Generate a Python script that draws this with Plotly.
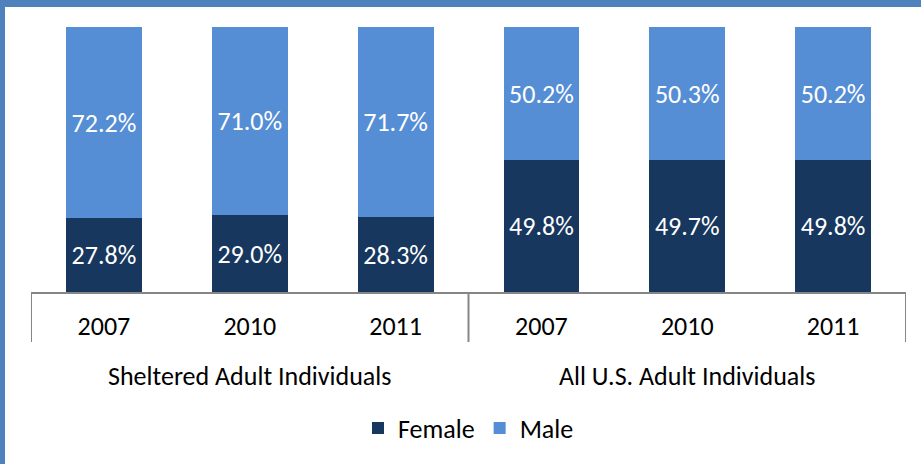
import plotly.graph_objects as go

years = ["2007", "2010", "2011", "2007", "2010", "2011"]
groups = ["Sheltered Adult Individuals", "All U.S. Adult Individuals"]
female = [27.8, 29.0, 28.3, 49.8, 49.7, 49.8]
male = [72.2, 71.0, 71.7, 50.2, 50.3, 50.2]

FONT = "Calibri, Carlito, Lato, sans-serif"
W, H = 921, 464
ML, MR, MT, MB = 31, 15, 27, 172
PW, PH = W - ML - MR, H - MT - MB
FS = 26

def px_y(p):  # pixel y -> paper y
    return 1 - (p - MT) / PH

def px_x(p):
    return (p - ML) / PW

idx = list(range(len(years)))

fig = go.Figure()
fig.add_bar(x=idx, y=female, name="Female", marker=dict(color="#17375E", line=dict(width=0)),
            texttemplate="%{y:.1f}%", textposition="inside", insidetextanchor="middle",
            textangle=0, textfont=dict(color="white", size=FS, family=FONT))
fig.add_bar(x=idx, y=male, name="Male", marker=dict(color="#558ED5", line=dict(width=0)),
            texttemplate="%{y:.1f}%", textposition="inside", insidetextanchor="middle",
            textangle=0, textfont=dict(color="white", size=FS, family=FONT))

shapes = []
# blue frame (top and left)
shapes.append(dict(type="rect", xref="paper", yref="paper", x0=px_x(0), x1=px_x(W), y0=px_y(7), y1=px_y(0),
                   fillcolor="#4F81BD", line=dict(width=0), layer="above"))
shapes.append(dict(type="rect", xref="paper", yref="paper", x0=px_x(0), x1=px_x(5), y0=px_y(H), y1=px_y(0),
                   fillcolor="#4F81BD", line=dict(width=0), layer="above"))
# category dividers
for xv in [-0.5, 2.5, 5.5]:
    shapes.append(dict(type="line", xref="x", yref="paper", x0=xv, x1=xv, y0=px_y(342), y1=0,
                       line=dict(color="#868686", width=2), layer="above"))

annotations = []
for gi, g in enumerate(groups):
    annotations.append(dict(x=1 + 3 * gi, xref="x", y=px_y(376), yref="paper", text=g, showarrow=False,
                            xanchor="center", yanchor="middle", font=dict(size=FS, family=FONT, color="black")))

fig.update_layout(
    width=W, height=H,
    margin=dict(l=ML, r=MR, t=MT, b=MB),
    barmode="stack", bargap=0.48,
    plot_bgcolor="white", paper_bgcolor="white",
    font=dict(family=FONT, color="black", size=FS),
    showlegend=True,
    legend=dict(orientation="h", x=0.5, xanchor="center", y=px_y(428), yanchor="middle",
                font=dict(size=FS, family=FONT), traceorder="normal"),
    xaxis=dict(range=[-0.5, 5.5], tickmode="array", tickvals=idx, ticktext=years,
               showline=True, linecolor="#868686", linewidth=2, showgrid=False, zeroline=False,
               ticks="outside", ticklen=10, tickcolor="rgba(0,0,0,0)",
               tickfont=dict(size=FS, family=FONT, color="black")),
    yaxis=dict(range=[0, 100], visible=False, showgrid=False, zeroline=False),
    shapes=shapes, annotations=annotations,
)

fig.write_html("out.html", config={"displayModeBar": False},
               post_script="document.body.style.margin='0';")
